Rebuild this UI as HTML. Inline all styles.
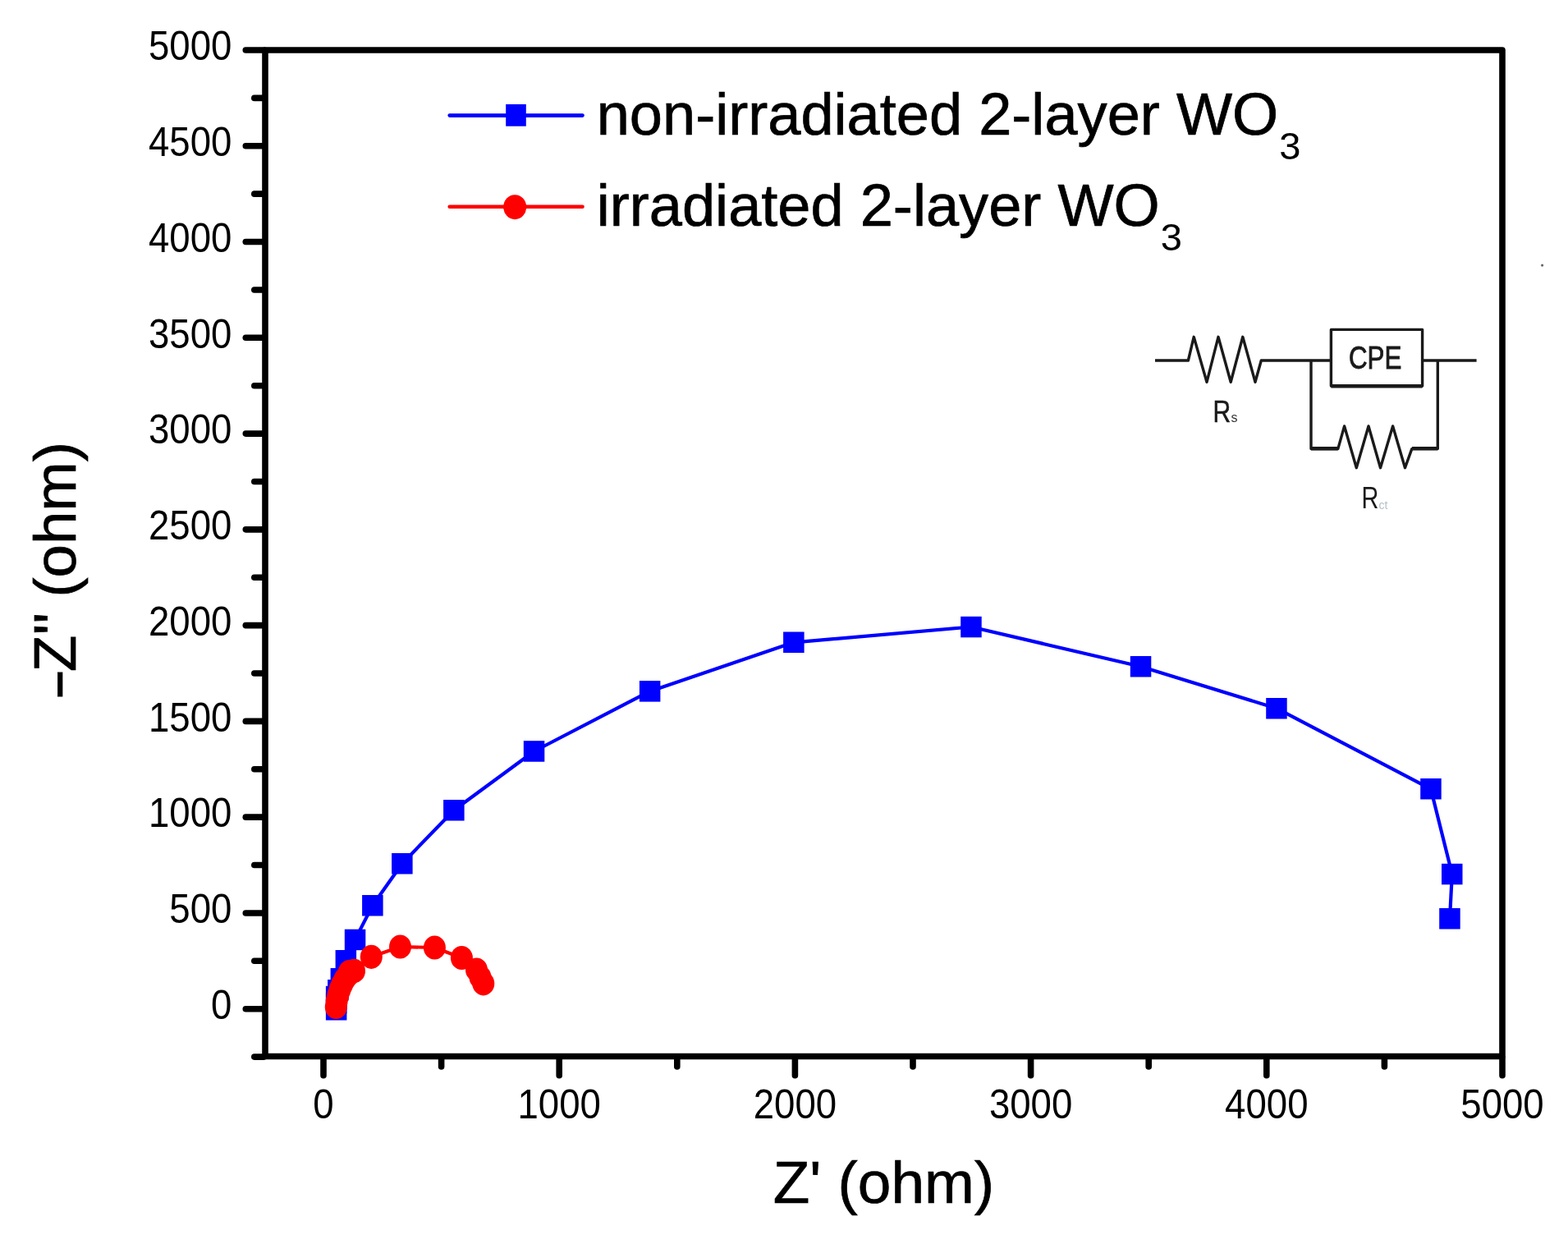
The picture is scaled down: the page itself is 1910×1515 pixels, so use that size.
<!DOCTYPE html>
<html><head><meta charset="utf-8"><title>Nyquist plot</title>
<style>html,body{margin:0;padding:0;background:#fff;width:1910px;height:1515px;overflow:hidden}</style>
</head><body>
<div style="position:absolute;left:0;top:0;width:1910px;height:1515px">
<svg width="1910" height="1515" viewBox="0 0 1910 1515" style="display:block">
<rect x="0" y="0" width="1910" height="1515" fill="#fff"/>
<polyline points="409.7,1229.7 409.7,1221.5 409.7,1213.6 411.9,1205.8 415.4,1191.7 421.3,1169.7 432.5,1144.4 453.8,1102.8 489.9,1051.7 552.9,986.7 650.5,915.0 791.6,841.9 966.9,782.3 1183.0,763.5 1389.6,811.7 1555.0,862.7 1742.9,960.8 1768.8,1064.6 1766.0,1118.7" fill="none" stroke="#0000ff" stroke-width="4.2" stroke-linejoin="round"/>
<rect x="396.9" y="1217.0" width="25.5" height="25.5" fill="#0000ff"/>
<rect x="396.9" y="1208.8" width="25.5" height="25.5" fill="#0000ff"/>
<rect x="396.9" y="1200.8" width="25.5" height="25.5" fill="#0000ff"/>
<rect x="399.1" y="1193.0" width="25.5" height="25.5" fill="#0000ff"/>
<rect x="402.6" y="1179.0" width="25.5" height="25.5" fill="#0000ff"/>
<rect x="408.6" y="1157.0" width="25.5" height="25.5" fill="#0000ff"/>
<rect x="419.8" y="1131.7" width="25.5" height="25.5" fill="#0000ff"/>
<rect x="441.1" y="1090.0" width="25.5" height="25.5" fill="#0000ff"/>
<rect x="477.1" y="1039.0" width="25.5" height="25.5" fill="#0000ff"/>
<rect x="540.1" y="974.0" width="25.5" height="25.5" fill="#0000ff"/>
<rect x="637.8" y="902.2" width="25.5" height="25.5" fill="#0000ff"/>
<rect x="778.9" y="829.1" width="25.5" height="25.5" fill="#0000ff"/>
<rect x="954.1" y="769.5" width="25.5" height="25.5" fill="#0000ff"/>
<rect x="1170.2" y="750.8" width="25.5" height="25.5" fill="#0000ff"/>
<rect x="1376.8" y="799.0" width="25.5" height="25.5" fill="#0000ff"/>
<rect x="1542.2" y="850.0" width="25.5" height="25.5" fill="#0000ff"/>
<rect x="1730.2" y="948.0" width="25.5" height="25.5" fill="#0000ff"/>
<rect x="1756.0" y="1051.8" width="25.5" height="25.5" fill="#0000ff"/>
<rect x="1753.2" y="1106.0" width="25.5" height="25.5" fill="#0000ff"/>
<polyline points="409.3,1226.5 410.2,1219.0 411.8,1212.0 414.0,1205.0 416.8,1198.5 420.0,1192.5 424.0,1187.5 425.5,1183.5 431.5,1182.4 452.3,1165.3 487.5,1153.0 529.4,1154.0 562.4,1166.5 580.5,1181.0 585.0,1190.0 588.8,1197.8" fill="none" stroke="#ff0000" stroke-width="4.2" stroke-linejoin="round"/>
<ellipse cx="409.3" cy="1226.5" rx="13.5" ry="14.6" fill="#ff0000"/>
<ellipse cx="410.2" cy="1219.0" rx="13.5" ry="14.6" fill="#ff0000"/>
<ellipse cx="411.8" cy="1212.0" rx="13.5" ry="14.6" fill="#ff0000"/>
<ellipse cx="414.0" cy="1205.0" rx="13.5" ry="14.6" fill="#ff0000"/>
<ellipse cx="416.8" cy="1198.5" rx="13.5" ry="14.6" fill="#ff0000"/>
<ellipse cx="420.0" cy="1192.5" rx="13.5" ry="14.6" fill="#ff0000"/>
<ellipse cx="424.0" cy="1187.5" rx="13.5" ry="14.6" fill="#ff0000"/>
<ellipse cx="425.5" cy="1183.5" rx="13.5" ry="14.6" fill="#ff0000"/>
<ellipse cx="431.5" cy="1182.4" rx="13.5" ry="14.6" fill="#ff0000"/>
<ellipse cx="452.3" cy="1165.3" rx="13.5" ry="14.6" fill="#ff0000"/>
<ellipse cx="487.5" cy="1153.0" rx="13.5" ry="14.6" fill="#ff0000"/>
<ellipse cx="529.4" cy="1154.0" rx="13.5" ry="14.6" fill="#ff0000"/>
<ellipse cx="562.4" cy="1166.5" rx="13.5" ry="14.6" fill="#ff0000"/>
<ellipse cx="580.5" cy="1181.0" rx="13.5" ry="14.6" fill="#ff0000"/>
<ellipse cx="585.0" cy="1190.0" rx="13.5" ry="14.6" fill="#ff0000"/>
<ellipse cx="588.8" cy="1197.8" rx="13.5" ry="14.6" fill="#ff0000"/>
<g stroke="#000" stroke-width="7.6" fill="none" stroke-linecap="round">
<rect x="323.0" y="61.0" width="1507.0" height="1225.5" stroke-linejoin="round"/>
<line x1="321.5" y1="1287.09" x2="309.8" y2="1287.09"/>
<line x1="321.5" y1="1228.70" x2="299.3" y2="1228.70"/>
<line x1="321.5" y1="1170.32" x2="309.8" y2="1170.32"/>
<line x1="321.5" y1="1111.93" x2="299.3" y2="1111.93"/>
<line x1="321.5" y1="1053.55" x2="309.8" y2="1053.55"/>
<line x1="321.5" y1="995.16" x2="299.3" y2="995.16"/>
<line x1="321.5" y1="936.78" x2="309.8" y2="936.78"/>
<line x1="321.5" y1="878.39" x2="299.3" y2="878.39"/>
<line x1="321.5" y1="820.01" x2="309.8" y2="820.01"/>
<line x1="321.5" y1="761.62" x2="299.3" y2="761.62"/>
<line x1="321.5" y1="703.24" x2="309.8" y2="703.24"/>
<line x1="321.5" y1="644.85" x2="299.3" y2="644.85"/>
<line x1="321.5" y1="586.47" x2="309.8" y2="586.47"/>
<line x1="321.5" y1="528.08" x2="299.3" y2="528.08"/>
<line x1="321.5" y1="469.70" x2="309.8" y2="469.70"/>
<line x1="321.5" y1="411.31" x2="299.3" y2="411.31"/>
<line x1="321.5" y1="352.93" x2="309.8" y2="352.93"/>
<line x1="321.5" y1="294.54" x2="299.3" y2="294.54"/>
<line x1="321.5" y1="236.16" x2="309.8" y2="236.16"/>
<line x1="321.5" y1="177.77" x2="299.3" y2="177.77"/>
<line x1="321.5" y1="119.38" x2="309.8" y2="119.38"/>
<line x1="321.5" y1="61.00" x2="299.3" y2="61.00"/>
<line x1="394.00" y1="1288.0" x2="394.00" y2="1309.7"/>
<line x1="537.60" y1="1288.0" x2="537.60" y2="1298.9"/>
<line x1="681.20" y1="1288.0" x2="681.20" y2="1309.7"/>
<line x1="824.80" y1="1288.0" x2="824.80" y2="1298.9"/>
<line x1="968.40" y1="1288.0" x2="968.40" y2="1309.7"/>
<line x1="1112.00" y1="1288.0" x2="1112.00" y2="1298.9"/>
<line x1="1255.60" y1="1288.0" x2="1255.60" y2="1309.7"/>
<line x1="1399.20" y1="1288.0" x2="1399.20" y2="1298.9"/>
<line x1="1542.80" y1="1288.0" x2="1542.80" y2="1309.7"/>
<line x1="1686.40" y1="1288.0" x2="1686.40" y2="1298.9"/>
<line x1="1830.00" y1="1288.0" x2="1830.00" y2="1309.7"/>
</g>
<g font-family="'Liberation Sans', Arial, Helvetica, sans-serif" font-size="45.6" fill="#000">
<text transform="translate(282.4,1240.90) scale(1,1.11)" text-anchor="end">0</text>
<text transform="translate(282.4,1124.13) scale(1,1.11)" text-anchor="end">500</text>
<text transform="translate(282.4,1007.36) scale(1,1.11)" text-anchor="end">1000</text>
<text transform="translate(282.4,890.59) scale(1,1.11)" text-anchor="end">1500</text>
<text transform="translate(282.4,773.82) scale(1,1.11)" text-anchor="end">2000</text>
<text transform="translate(282.4,657.05) scale(1,1.11)" text-anchor="end">2500</text>
<text transform="translate(282.4,540.28) scale(1,1.11)" text-anchor="end">3000</text>
<text transform="translate(282.4,423.51) scale(1,1.11)" text-anchor="end">3500</text>
<text transform="translate(282.4,306.74) scale(1,1.11)" text-anchor="end">4000</text>
<text transform="translate(282.4,189.97) scale(1,1.11)" text-anchor="end">4500</text>
<text transform="translate(282.4,73.20) scale(1,1.11)" text-anchor="end">5000</text>
<text transform="translate(394.00,1362) scale(1,1.11)" text-anchor="middle">0</text>
<text transform="translate(681.20,1362) scale(1,1.11)" text-anchor="middle">1000</text>
<text transform="translate(968.40,1362) scale(1,1.11)" text-anchor="middle">2000</text>
<text transform="translate(1255.60,1362) scale(1,1.11)" text-anchor="middle">3000</text>
<text transform="translate(1542.80,1362) scale(1,1.11)" text-anchor="middle">4000</text>
<text transform="translate(1830.00,1362) scale(1,1.11)" text-anchor="middle">5000</text>
</g>
<g font-family="'Liberation Sans', Arial, Helvetica, sans-serif" fill="#000" stroke="#000" stroke-width="0.7">
<text x="941.7" y="1464.8" font-size="73">Z' (ohm)</text>
<g transform="translate(92,0) rotate(-90)">
<text font-size="73" transform="translate(-853.3,0) scale(1.62,1)">-</text>
<text x="-818.2" y="0" font-size="73">Z''</text>
<text x="-727.60" y="0" font-size="72.6">(ohm)</text>
</g>
</g>
<line x1="547.7" y1="140.6" x2="709.5" y2="140.6" stroke="#0000ff" stroke-width="4.6" stroke-linecap="round"/>
<rect x="616.2" y="127" width="24.6" height="26.7" fill="#0000ff"/>
<line x1="547.7" y1="251.7" x2="709.5" y2="251.7" stroke="#ff0000" stroke-width="4.6" stroke-linecap="round"/>
<ellipse cx="627.2" cy="252.2" rx="14" ry="15" fill="#ff0000"/>
<g font-family="'Liberation Sans', Arial, Helvetica, sans-serif" font-size="72.2" fill="#000" stroke="#000" stroke-width="0.7">
<text x="726.7" y="164">non-irradiated 2-layer WO<tspan font-size="47" dy="29.5" dx="1" stroke-width="0">3</tspan></text>
<text x="726.7" y="275">irradiated 2-layer WO<tspan font-size="47" dy="29.5" dx="1" stroke-width="0">3</tspan></text>
</g>
<g stroke="#1a1a1a" stroke-width="3.4" fill="none" stroke-linejoin="round">
<polyline points="1407,439 1447.4,439 1454.2,410.3 1470,465.3 1484,410.3 1499.2,465.3 1513.8,410.3 1529,465.3 1536.3,439 1621.4,439"/>
<rect x="1621.4" y="401.4" width="111.2" height="68.6"/>
<line x1="1621.4" y1="470.2" x2="1732.6" y2="470.2" stroke-width="4.4"/>
<line x1="1597" y1="546.2" x2="1629.8" y2="546.2" stroke-width="4.4"/>
<line x1="1720" y1="546.2" x2="1751.3" y2="546.2" stroke-width="4.4"/>
<line x1="1732.6" y1="439" x2="1798.6" y2="439"/>
<polyline points="1597,439 1597,546.6 1629.8,546.6 1637.6,519 1652.3,569.7 1667,519 1681.5,569.7 1696.6,519 1711.5,569.7 1719.8,546.6 1751.3,546.6 1751.3,439"/>
</g>
<g font-family="'Liberation Sans', Arial, Helvetica, sans-serif" fill="#1a1a1a">
<text x="1643" y="448.7" font-size="38" textLength="64.4" lengthAdjust="spacingAndGlyphs" stroke="#1a1a1a" stroke-width="0.9">CPE</text>
<text transform="translate(1477.5,514) scale(0.8,1)" font-size="37.5" stroke="#1a1a1a" stroke-width="0.6">R</text>
<text x="1499.5" y="514" font-size="16" fill="#333">s</text>
<text transform="translate(1658.4,618.6) scale(0.77,1)" font-size="37.5">R</text>
<text x="1679.5" y="619.5" font-size="14" fill="#b5c0c8">ct</text>
</g>
<circle cx="1878.6" cy="323.1" r="1.6" fill="#666"/>
</svg>
</div>
</body></html>
